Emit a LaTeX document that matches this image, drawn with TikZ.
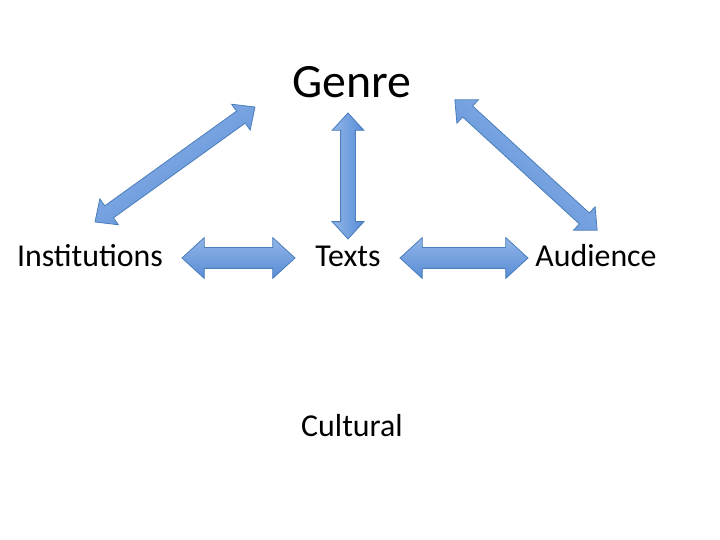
\documentclass[tikz,border=0pt]{standalone}
\usepackage{fontspec}
\setmainfont{Carlito}
\usetikzlibrary{shapes.arrows}
\definecolor{arrowline}{RGB}{74,126,187}
\definecolor{arrowtop}{RGB}{146,182,232}
\definecolor{arrowbot}{RGB}{88,140,214}

\begin{document}
\begin{tikzpicture}[x=1bp, y=1bp,
    label/.style={anchor=base, inner sep=0pt, font=\fontsize{32}{36}\selectfont},
    twoway/.style={double arrow, draw=arrowline, line width=0.8bp,
        top color=arrowtop, bottom color=arrowbot,
        inner xsep=0pt, double arrow tip angle=85},
    wide/.style={twoway, inner ysep=10bp, double arrow head extend=10bp},
    thin/.style={twoway, inner ysep=7bp, double arrow head extend=8.5bp},
    turn/.style={rotate=#1, shading angle=#1}]

    \useasboundingbox (0,0) rectangle (720,540);

    % --- labels ---
    \node[label, font=\fontsize{48}{54}\selectfont] (genre) at (352,442) {Genre};
    \node[label] (inst)  at (90,273)  {Institutions};
    \node[label] (texts) at (348,273) {Texts};
    \node[label] (aud)   at (596,273) {Audience};
    \node[label] (cult)  at (352,103) {Cultural};

    % --- block arrows ---
    \node[wide, minimum height=113bp] (arrIT) at (238.5,282) {};
    \node[wide, minimum height=128bp] (arrTA) at (464,282) {};
    \node[thin, minimum height=126bp, turn=90] (arrTG) at (348,364) {};
    \node[thin, minimum height=197bp, turn=35.7] (arrIG) at (175,375.5) {};
    \node[thin, minimum height=193bp, turn=-42.5] (arrGA) at (526,375) {};
\end{tikzpicture}
\end{document}
